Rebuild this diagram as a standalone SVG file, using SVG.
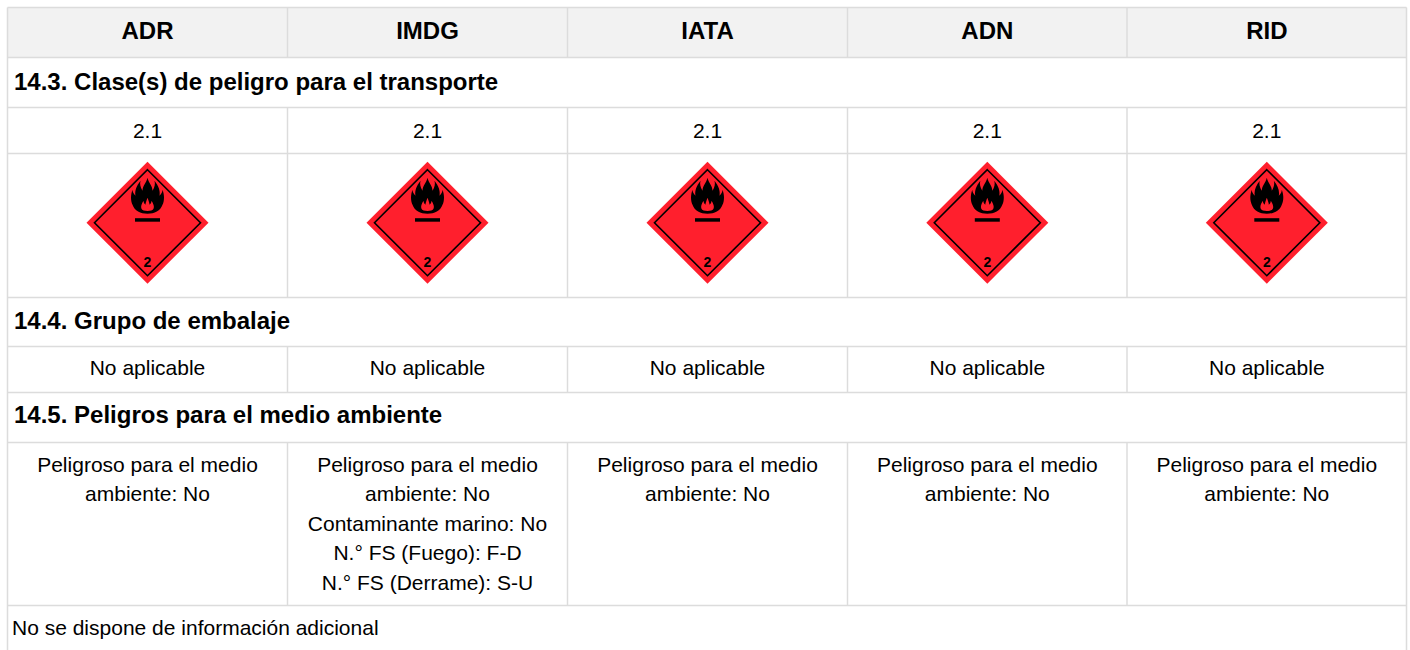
<svg xmlns="http://www.w3.org/2000/svg" width="1410" height="650" viewBox="0 0 1410 650">
<style>
  text { font-family: "Liberation Sans", Arial, sans-serif; fill: #000; }
  .h { font-size: 24px; font-weight: bold; text-anchor: middle; }
  .sec { font-size: 24px; font-weight: bold; }
  .c { font-size: 21px; text-anchor: middle; }
  .l { font-size: 21px; }
  .grid line { stroke: #dcdcdc; stroke-width: 1.5; }
</style>
<defs>
  <g id="placard">
    <polygon points="0,-61 61,0 0,61 -61,0" fill="#ff1f2d"/>
    <polygon points="0,-53 53,0 0,53 -53,0" fill="none" stroke="#000" stroke-width="1.6"/>
    <g transform="translate(0,-26)">
      <path fill="#000" fill-rule="evenodd" d="M0,-19 C1,-14 5,-11 5,-6 C7,-9 8,-13 7,-16 C11,-11 13,-6 12,-1 C14,-3 15,-5 15,-7 C17,-2 17,4 15,8 C13,14 7,17 0,17 C-7,17 -13,14 -15,8 C-17,4 -17,-2 -15,-7 C-15,-5 -14,-3 -12,-1 C-13,-6 -11,-11 -7,-16 C-8,-13 -7,-9 -5,-6 C-5,-11 -1,-14 0,-19 Z M0,1 C1,4 2,6 2,8 C3,7 4,6 4,4 C6,7 7,10 6,12 C5,15 -5,15 -6,12 C-7,10 -6,7 -4,4 C-4,6 -3,7 -2,8 C-2,6 -1,4 0,1 Z"/>
    </g>
    <rect x="-12.5" y="-4.5" width="25" height="3.5" fill="#000"/>
    <text x="0" y="44.5" style="font-size:14px;font-weight:bold;text-anchor:middle">2</text>
  </g>
</defs>

<rect x="7.5" y="7.5" width="1399" height="50" fill="#f2f2f2"/>

<g class="grid" id="grid">
  <line x1="7.5" y1="7.5" x2="1406.5" y2="7.5"/>
  <line x1="7.5" y1="57.5" x2="1406.5" y2="57.5"/>
  <line x1="7.5" y1="107.5" x2="1406.5" y2="107.5"/>
  <line x1="7.5" y1="153.5" x2="1406.5" y2="153.5"/>
  <line x1="7.5" y1="297.5" x2="1406.5" y2="297.5"/>
  <line x1="7.5" y1="346.5" x2="1406.5" y2="346.5"/>
  <line x1="7.5" y1="392.5" x2="1406.5" y2="392.5"/>
  <line x1="7.5" y1="442.5" x2="1406.5" y2="442.5"/>
  <line x1="7.5" y1="605.5" x2="1406.5" y2="605.5"/>
  <line x1="7.5" y1="7.5" x2="7.5" y2="650"/>
  <line x1="1406.5" y1="7.5" x2="1406.5" y2="650"/>
  <line x1="287.5" y1="7.5" x2="287.5" y2="57.5"/>
  <line x1="567.5" y1="7.5" x2="567.5" y2="57.5"/>
  <line x1="847.5" y1="7.5" x2="847.5" y2="57.5"/>
  <line x1="1127" y1="7.5" x2="1127" y2="57.5"/>
  <line x1="287.5" y1="107.5" x2="287.5" y2="297.5"/>
  <line x1="567.5" y1="107.5" x2="567.5" y2="297.5"/>
  <line x1="847.5" y1="107.5" x2="847.5" y2="297.5"/>
  <line x1="1127" y1="107.5" x2="1127" y2="297.5"/>
  <line x1="287.5" y1="346.5" x2="287.5" y2="392.5"/>
  <line x1="567.5" y1="346.5" x2="567.5" y2="392.5"/>
  <line x1="847.5" y1="346.5" x2="847.5" y2="392.5"/>
  <line x1="1127" y1="346.5" x2="1127" y2="392.5"/>
  <line x1="287.5" y1="442.5" x2="287.5" y2="605.5"/>
  <line x1="567.5" y1="442.5" x2="567.5" y2="605.5"/>
  <line x1="847.5" y1="442.5" x2="847.5" y2="605.5"/>
  <line x1="1127" y1="442.5" x2="1127" y2="605.5"/>
</g>

<g id="header">
  <text class="h" x="147.5" y="38.5">ADR</text>
  <text class="h" x="427.5" y="38.5">IMDG</text>
  <text class="h" x="707.5" y="38.5">IATA</text>
  <text class="h" x="987.3" y="38.5">ADN</text>
  <text class="h" x="1266.8" y="38.5">RID</text>
</g>

<g id="sec143">
  <text class="sec" x="14" y="90">14.3. Clase(s) de peligro para el transporte</text>
  <text class="c" x="147.5" y="137.5">2.1</text>
  <text class="c" x="427.5" y="137.5">2.1</text>
  <text class="c" x="707.5" y="137.5">2.1</text>
  <text class="c" x="987.3" y="137.5">2.1</text>
  <text class="c" x="1266.8" y="137.5">2.1</text>
  <use href="#placard" x="147.5" y="222.7"/>
  <use href="#placard" x="427.5" y="222.7"/>
  <use href="#placard" x="707.5" y="222.7"/>
  <use href="#placard" x="987.3" y="222.7"/>
  <use href="#placard" x="1266.8" y="222.7"/>
</g>

<g id="sec144">
  <text class="sec" x="14" y="328.5">14.4. Grupo de embalaje</text>
  <text class="c" x="147.5" y="375">No aplicable</text>
  <text class="c" x="427.5" y="375">No aplicable</text>
  <text class="c" x="707.5" y="375">No aplicable</text>
  <text class="c" x="987.3" y="375">No aplicable</text>
  <text class="c" x="1266.8" y="375">No aplicable</text>
</g>

<g id="sec145">
  <text class="sec" x="14" y="423">14.5. Peligros para el medio ambiente</text>
  <text class="c" x="147.5" y="471.5">Peligroso para el medio</text>
  <text class="c" x="147.5" y="501">ambiente: No</text>
  <text class="c" x="427.5" y="471.5">Peligroso para el medio</text>
  <text class="c" x="427.5" y="501">ambiente: No</text>
  <text class="c" x="427.5" y="530.5">Contaminante marino: No</text>
  <text class="c" x="427.5" y="560">N.° FS (Fuego): F-D</text>
  <text class="c" x="427.5" y="589.5">N.° FS (Derrame): S-U</text>
  <text class="c" x="707.5" y="471.5">Peligroso para el medio</text>
  <text class="c" x="707.5" y="501">ambiente: No</text>
  <text class="c" x="987.3" y="471.5">Peligroso para el medio</text>
  <text class="c" x="987.3" y="501">ambiente: No</text>
  <text class="c" x="1266.8" y="471.5">Peligroso para el medio</text>
  <text class="c" x="1266.8" y="501">ambiente: No</text>
</g>

<g id="footer">
  <text class="l" x="12" y="634.5">No se dispone de información adicional</text>
</g>
</svg>
